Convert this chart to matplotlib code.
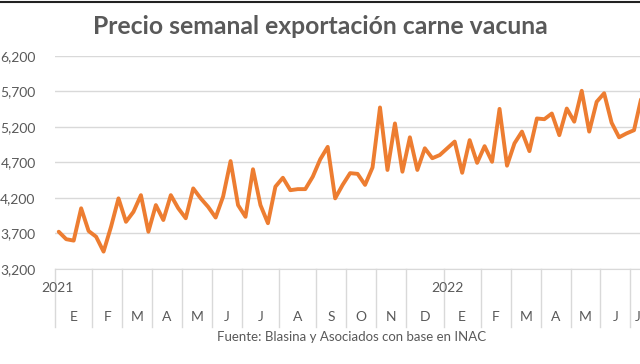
import numpy as np
import matplotlib.pyplot as plt
from matplotlib.lines import Line2D
import matplotlib.transforms as mtransforms

plt.rcParams["font.family"] = ["Lato", "DejaVu Sans"]

# weekly export price (one value per week, Jan 2021 onwards)
prices = [
    3725, 3620, 3600, 4055, 3735, 3655, 3445, 3795, 4195, 3865,
    4005, 4240, 3725, 4100, 3890, 4240, 4055, 3915, 4335, 4195,
    4075, 3925, 4220, 4720, 4100, 3935, 4605, 4100, 3845, 4360,
    4485, 4310, 4325, 4325, 4500, 4745, 4920, 4195, 4385, 4550,
    4540, 4385, 4630, 5475, 4595, 5250, 4570, 5055, 4595, 4900,
    4760, 4805, 4900, 4995, 4555, 5015, 4695, 4930, 4710, 5455,
    4655, 4970, 5135, 4860, 5320, 5310, 5390, 5085, 5460, 5275,
    5710, 5135, 5555, 5675, 5260, 5055, 5110, 5155, 5620,
]
month_labels = ["E", "F", "M", "A", "M", "J", "J", "A", "S", "O", "N", "D",
                "E", "F", "M", "A", "M", "J", "J"]
month_weeks = [5, 4, 4, 4, 4, 4, 5, 5, 4, 4, 4, 5,
               5, 4, 4, 4, 4, 4, 2]
year_labels = ["2021", "2022"]
year_pos = [0.35, 52.5]
y_ticks = [3200, 3700, 4200, 4700, 5200, 5700, 6200]

grey = "#595959"
grid_col = "#d9d9d9"

fig = plt.figure(figsize=(6.4, 3.64), dpi=100)
W, H = 640, 364
ax = fig.add_axes([55 / W, (H - 269) / H, 1 - 55 / W, 213 / H])

x = np.arange(len(prices)) + 0.5
ax.plot(x, prices, color="#ED7D31", lw=2.8, solid_joinstyle="round",
        solid_capstyle="round", zorder=3)

ax.set_xlim(0, 78.3)
ax.set_ylim(3200, 6200)
ax.set_yticks(y_ticks)
ax.set_yticklabels([f"{v:,}" for v in y_ticks])
ax.yaxis.grid(True, color=grid_col, lw=1)
ax.set_axisbelow(True)
ax.set_xticks([])
ax.tick_params(axis="y", length=0, pad=14, labelsize=10, labelcolor=grey)
for s in ["top", "right", "left"]:
    ax.spines[s].set_visible(False)
ax.spines["bottom"].set_color(grid_col)

# two-level category axis: separators, months, years
tr = mtransforms.blended_transform_factory(ax.transData, ax.transAxes)
bounds = np.concatenate([[0], np.cumsum(month_weeks)])
for b in bounds:
    ax.plot([b, b], [0, -0.272], transform=tr, color=grid_col, lw=1, clip_on=False)
for lab, a, b in zip(month_labels, bounds[:-1], bounds[1:]):
    ax.text((a + b) / 2, -0.225, lab, transform=tr, ha="center", va="center",
            fontsize=10, color=grey, clip_on=False)
for lab, p in zip(year_labels, year_pos):
    ax.text(p, -0.089, lab, transform=tr, ha="center", va="center",
            fontsize=10, color=grey)

fig.text(320 / W, 1 - 26 / H, "Precio semanal exportación carne vacuna",
         ha="center", va="center", fontsize=17.8, fontweight="bold", color=grey)
fig.text(352 / W, 1 - 337 / H, "Fuente: Blasina y Asociados con base en INAC",
         ha="center", va="center", fontsize=9.5, color=grey)

fig.add_artist(Line2D([0, 1], [1 - 1.5 / H, 1 - 1.5 / H], color="#222222", lw=1.5))

fig.savefig("out.png", dpi=100)
